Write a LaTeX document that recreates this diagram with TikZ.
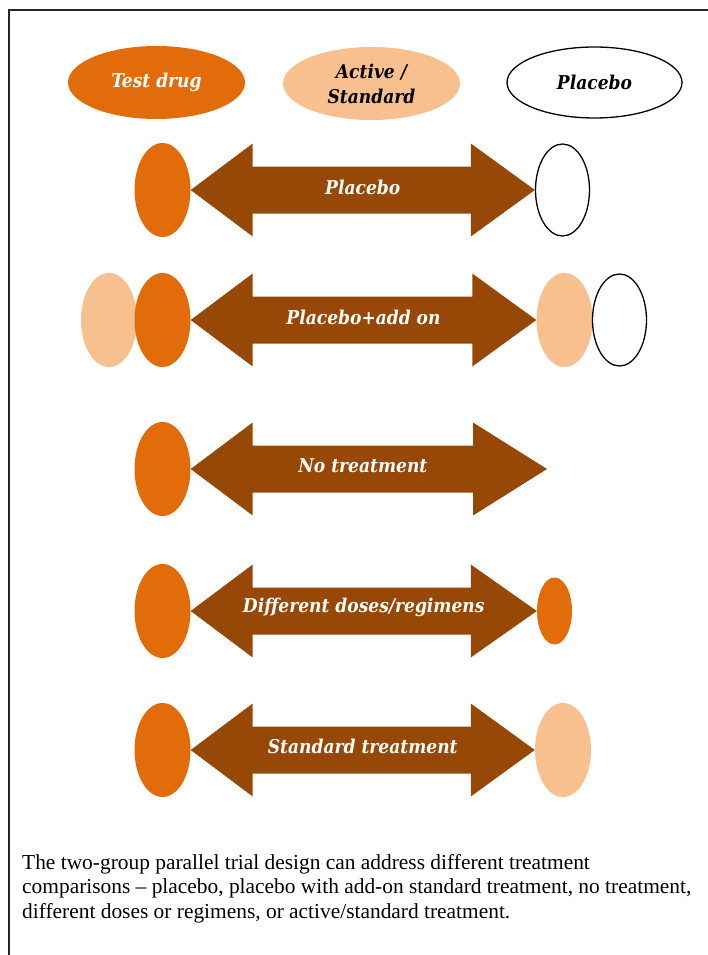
\documentclass[tikz,border=0pt]{standalone}
\usepackage{fontspec}
\setmainfont{Liberation Serif}
\newfontfamily\lblfont{DejaVu Serif Condensed}
\usetikzlibrary{shapes.geometric,calc}
\definecolor{drugc}{HTML}{E26B0A}
\definecolor{actc}{HTML}{F9C08F}
\definecolor{arrc}{HTML}{974706}
\tikzset{
  lbl/.style={font=\lblfont\bfseries\itshape\fontsize{19}{25}\selectfont},
  blob/.style={ellipse, inner sep=0pt, minimum width=56pt, minimum height=94pt},
  drug/.style={blob, fill=drugc},
  actv/.style={blob, fill=actc},
  plac/.style={blob, draw=black, line width=1.3pt, fill=white, minimum width=54pt, minimum height=92pt},
  head/.style={ellipse, inner sep=0pt, minimum width=177pt, minimum height=73pt, lbl, align=center},
  arrlbl/.style={lbl, text=white},
}
% #1 left tip, #2 right tip, #3 right head length
\newcommand\dblarrow[3]{%
  \fill[arrc] (#1) -- ++(62,-46.5) -- ++(0,23) -- ($(#2)+(-#3,-23.5)$) -- ++(0,-23)
    -- (#2) -- ++(-#3,46.5) -- ++(0,-23) -- ($(#1)+(62,23.5)$) -- ++(0,23) -- cycle;}
\begin{document}
\begin{tikzpicture}[x=1pt,y=-1pt]
\useasboundingbox (0,0) rectangle (708,955);
% frame
\coordinate (fb) at (9,956);
\coordinate (ftl) at (9,10);
\coordinate (ftr) at (709,10);
\draw[line width=1.5pt, black!85] (fb) -- (ftl) -- (ftr);

% legend
\node[head, fill=drugc, text=white] (hTest) at (156.5,82.5) {Test drug};
\node[head, fill=actc, text=black] (hAct) at (371.5,83.5) {Active /\\Standard};
\node[head, draw=black, line width=1.3pt, fill=white, text=black, minimum width=175pt, minimum height=71pt] (hPla) at (594.5,82.5) {Placebo};

% row 1: placebo
\node[drug] (L1) at (162.5,190) {};
\node[plac] (R1) at (562.5,190) {};
\dblarrow{L1.east}{R1.west}{64}
\node[arrlbl] (t1) at ($(L1.east)!0.5!(R1.west)+(0,-3)$) {Placebo};

% row 2: placebo + add on
\node[actv] (A2) at (109,320) {};
\node[drug] (L2) at (162.5,320) {};
\node[actv] (B2) at (564.5,320) {};
\node[plac] (R2) at (619.5,320) {};
\dblarrow{L2.east}{B2.west}{64}
\node[arrlbl] (t2) at ($(L2.east)!0.5!(B2.west)+(0,-3)$) {Placebo+add on};

% row 3: no treatment
\node[drug] (L3) at (162.5,469) {};
\coordinate (E3) at (547,469);
\dblarrow{L3.east}{E3}{74}
\node[arrlbl] (t3) at ($(L3.east)!0.5!(E3)+(-6,-3)$) {No treatment};

% row 4: different doses
\node[drug] (L4) at (162.5,611) {};
\node[drug, minimum width=35pt, minimum height=67pt] (R4) at (554.5,611) {};
\dblarrow{L4.east}{R4.west}{66}
\node[arrlbl] (t4) at ($(L4.east)!0.5!(R4.west)+(0,-4)$) {Different doses/regimens};

% row 5: standard treatment
\node[drug] (L5) at (162.5,750) {};
\node[actv] (R5) at (563,750) {};
\dblarrow{L5.east}{R5.west}{64}
\node[arrlbl] (t5) at ($(L5.east)!0.5!(R5.west)+(0,-4)$) {Standard treatment};

% caption
\node[anchor=base west, align=left, inner sep=0pt, font=\fontsize{21.4}{24.5}\selectfont] (cap) at (22,918)
  {The two-group parallel trial design can address different treatment\\
   comparisons -- placebo, placebo with add-on standard treatment, no treatment,\\
   different doses or regimens, or active/standard treatment.};
\end{tikzpicture}
\end{document}
